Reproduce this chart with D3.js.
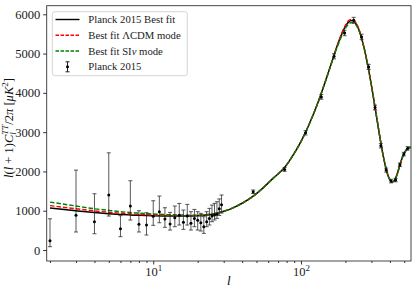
<!DOCTYPE html>
<html>

<head>
    <meta charset="utf-8">
    <style>
        body {
            margin: 0;
            background: white;
        }

        svg {
            font-family: 'Liberation Serif', 'DejaVu Serif', serif;
        }

        .axis .domain {
            display: none;
        }

        .axis .tick line {
            stroke: #333;
        }

        .axis .tick text {
            font-size: 12.5px;
            fill: #222;
            font-family: 'Liberation Serif', serif;
        }
    </style>
</head>

<body>
    <svg width="417" height="293"></svg>
</body>

<script src="https://d3js.org/d3.v7.min.js"></script>

<script>
    // ---- data ----

    // low-l Planck 2015 points (l = 2..29), values and asymmetric error bars
    let lowEll = [2, 3, 4, 5, 6, 7, 8, 9, 10, 11, 12, 13, 14, 15, 16, 17, 18, 19, 20, 21, 22, 23, 24, 25, 26, 27, 28, 29];
    let lowVal = [236, 882, 720, 1398, 543, 1119, 653, 636, 856, 975, 788, 661, 822, 882, 704, 865, 678, 805, 755, 694, 593, 720, 805, 865, 890, 907, 1050, 1150];
    let lowErrLo = [84, 458, 414, 864, 339, 763, 458, 381, 628, 694, 577, 508, 593, 636, 526, 636, 508, 593, 508, 483, 424, 593, 636, 720, 763, 805, 880, 940];
    let lowErrHi = [795, 2034, 1432, 2474, 873, 1763, 1000, 949, 1254, 1373, 1076, 958, 1119, 1186, 1017, 1161, 975, 1034, 975, 933, 848, 975, 1060, 1144, 1187, 1229, 1300, 1400];

    // binned high-l Planck 2015 points
    let binEll = [47.5, 77.5, 107.5, 137.5, 167.5, 197.5, 227.5, 257.5, 287.5, 317.5, 347.5, 377.5, 407.5, 437.5, 467.5, 497.5, 527.5];
    let binVal = [1483, 2052, 2983, 3898, 4932, 5525, 5848, 5424, 4661, 3628, 2653, 2034, 1754, 1780, 2169, 2441, 2586];
    let binErr = [45, 50, 55, 60, 65, 70, 75, 70, 65, 60, 55, 50, 45, 45, 45, 45, 45];

    // model curves sampled on one l grid
    let curveEll = [2, 3, 4, 5, 6, 7, 8, 10, 12, 15, 18, 20, 25, 30, 35, 40, 47.5, 55, 65, 77.5, 90, 100, 110, 120, 130, 140, 150, 160, 170, 180, 190, 200, 210, 220, 230, 240, 250, 260, 270, 280, 290, 300, 310, 320, 330, 340, 350, 360, 370, 380, 390, 400, 410, 420, 430, 440, 450, 460, 470, 480, 490, 500, 515, 530, 545, 556];
    let bestFit = [1070, 1000, 955, 925, 905, 892, 883, 872, 866, 864, 868, 874, 910, 985, 1080, 1190, 1370, 1570, 1830, 2100, 2460, 2760, 3080, 3410, 3740, 4080, 4410, 4730, 5030, 5300, 5520, 5690, 5800, 5840, 5810, 5710, 5550, 5330, 5080, 4800, 4500, 4190, 3870, 3550, 3240, 2940, 2660, 2410, 2200, 2020, 1880, 1790, 1740, 1740, 1780, 1850, 1950, 2070, 2190, 2300, 2390, 2460, 2540, 2590, 2610, 2612];
    let lcdmFit = [1130, 1050, 995, 960, 935, 918, 905, 890, 880, 874, 874, 878, 912, 986, 1080, 1190, 1370, 1570, 1830, 2100, 2460, 2760, 3080, 3410, 3740, 4080, 4410, 4730, 5030, 5310, 5540, 5720, 5840, 5870, 5840, 5730, 5560, 5330, 5080, 4800, 4500, 4190, 3870, 3550, 3240, 2940, 2660, 2410, 2200, 2020, 1880, 1790, 1740, 1740, 1780, 1850, 1950, 2070, 2190, 2300, 2390, 2460, 2540, 2590, 2610, 2612];
    let sinuFit = [1220, 1120, 1050, 1010, 975, 955, 940, 918, 903, 892, 888, 888, 918, 988, 1082, 1190, 1370, 1570, 1830, 2100, 2460, 2760, 3080, 3410, 3740, 4080, 4410, 4730, 5020, 5260, 5470, 5640, 5750, 5790, 5770, 5680, 5530, 5320, 5080, 4800, 4500, 4190, 3870, 3550, 3240, 2940, 2660, 2410, 2200, 2020, 1880, 1790, 1740, 1740, 1780, 1850, 1950, 2070, 2190, 2300, 2390, 2460, 2540, 2590, 2610, 2612];

    let yTicks = [0, 1000, 2000, 3000, 4000, 5000, 6000];
    let xTicks = [10, 100];
    let xMinor = [2, 3, 4, 5, 6, 7, 8, 9, 20, 30, 40, 50, 60, 70, 80, 90, 200, 300, 400, 500];

    let legendLabels = ["Planck 2015 Best fit", "Best fit \u039bCDM mode", "Best fit SI", "Planck 2015"];

    // ---- layout ----
    let width = 417;
    let height = 293;
    let margin = { top: 5.7, right: 6, bottom: 32, left: 46.7 };

    let svg = d3.select("svg");

    let x = d3.scaleLog()
        .domain([1.9, 556])
        .range([margin.left, width - margin.right]);

    let y = d3.scaleLinear()
        .domain([-280, 6219])
        .range([height - margin.bottom, margin.top]);

    let plotBottom = height - margin.bottom;

    // clip to the frame
    svg.append("clipPath").attr("id", "clip")
        .append("rect")
        .attr("x", margin.left).attr("y", margin.top)
        .attr("width", width - margin.right - margin.left)
        .attr("height", plotBottom - margin.top);

    // ---- axes ----
    let yAxis = d3.axisLeft(y)
        .tickValues(yTicks)
        .tickSize(3.5)
        .tickPadding(3)
        .tickFormat(d3.format("d"));

    svg.append("g")
        .attr("class", "y axis")
        .attr("transform", `translate(${margin.left},0)`)
        .call(yAxis);

    let xAxis = d3.axisBottom(x)
        .tickValues(xTicks)
        .tickSize(3.5)
        .tickPadding(3);

    let xg = svg.append("g")
        .attr("class", "x axis")
        .attr("transform", `translate(0,${plotBottom})`)
        .call(xAxis);

    // 10^n labels
    xg.selectAll(".tick text").each(function (d) {
        let t = d3.select(this).text("");
        t.append("tspan").text("10");
        t.append("tspan")
            .attr("dy", -5)
            .attr("font-size", "9px")
            .text(Math.round(Math.log10(d)));
    });

    svg.append("g")
        .attr("class", "x axis minor")
        .attr("transform", `translate(0,${plotBottom})`)
        .call(d3.axisBottom(x).tickValues(xMinor).tickSize(2).tickFormat(""));

    // ---- model curves ----
    let plot = svg.append("g").attr("clip-path", "url(#clip)");

    let line = d3.line()
        .x((d, i) => x(curveEll[i]))
        .y(d => y(d))
        .curve(d3.curveMonotoneX);

    plot.append("path")
        .datum(bestFit)
        .attr("d", line)
        .attr("fill", "none")
        .attr("stroke", "black")
        .attr("stroke-width", 1.5);

    plot.append("path")
        .datum(lcdmFit)
        .attr("d", line)
        .attr("fill", "none")
        .attr("stroke", "#ff0000")
        .attr("stroke-width", 1.4)
        .attr("stroke-dasharray", "4.5,2");

    plot.append("path")
        .datum(sinuFit)
        .attr("d", line)
        .attr("fill", "none")
        .attr("stroke", "#008000")
        .attr("stroke-width", 1.4)
        .attr("stroke-dasharray", "4.5,2");

    // ---- data with error bars ----
    let points = lowEll.map((l, i) => ({ l: l, v: lowVal[i], lo: lowErrLo[i], hi: lowErrHi[i] }))
        .concat(binEll.map((l, i) => ({ l: l, v: binVal[i], lo: binVal[i] - binErr[i], hi: binVal[i] + binErr[i] })));

    let eb = plot.append("g")
        .selectAll("g")
        .data(points)
        .join("g")
        .attr("stroke", "#222")
        .attr("stroke-opacity", 0.75)
        .attr("stroke-width", 1);

    eb.append("line")
        .attr("x1", d => x(d.l)).attr("x2", d => x(d.l))
        .attr("y1", d => y(d.lo)).attr("y2", d => y(d.hi));

    eb.append("line")
        .attr("x1", d => x(d.l) - 2).attr("x2", d => x(d.l) + 2)
        .attr("y1", d => y(d.lo)).attr("y2", d => y(d.lo));

    eb.append("line")
        .attr("x1", d => x(d.l) - 2).attr("x2", d => x(d.l) + 2)
        .attr("y1", d => y(d.hi)).attr("y2", d => y(d.hi));

    plot.append("g")
        .selectAll("circle")
        .data(points)
        .join("circle")
        .attr("cx", d => x(d.l))
        .attr("cy", d => y(d.v))
        .attr("r", 1.5)
        .attr("fill", "black");

    // frame
    svg.append("rect")
        .attr("x", margin.left).attr("y", margin.top)
        .attr("width", width - margin.right - margin.left)
        .attr("height", plotBottom - margin.top)
        .attr("fill", "none")
        .attr("stroke", "#333")
        .attr("stroke-width", 0.9);

    // ---- axis labels ----
    svg.append("text")
        .attr("x", (margin.left + width - margin.right) / 2)
        .attr("y", 285)
        .attr("text-anchor", "middle")
        .attr("font-size", "13px")
        .attr("font-style", "italic")
        .text("l");

    let ylab = svg.append("text")
        .attr("transform", "translate(13,128) rotate(-90)")
        .attr("text-anchor", "middle")
        .attr("font-size", "12.5px")
        .attr("fill", "#111");

    ylab.append("tspan").attr("font-style", "italic").text("l");
    ylab.append("tspan").text("(");
    ylab.append("tspan").attr("font-style", "italic").text("l");
    ylab.append("tspan").text(" + 1)");
    ylab.append("tspan").attr("font-style", "italic").text("C");
    ylab.append("tspan").attr("font-style", "italic").attr("font-size", "9px").attr("dy", 3).text("l");
    ylab.append("tspan").attr("font-style", "italic").attr("font-size", "9px").attr("dx", -2.5).attr("dy", -8).text("TT");
    ylab.append("tspan").attr("dy", 5).text("/2");
    ylab.append("tspan").attr("font-style", "italic").text("\u03c0");
    ylab.append("tspan").text(" [");
    ylab.append("tspan").attr("font-style", "italic").text("\u03bcK");
    ylab.append("tspan").attr("font-size", "9px").attr("dy", -5).text("2");
    ylab.append("tspan").attr("dy", 5).text("]");

    // ---- legend ----
    let leg = svg.append("g");

    leg.append("rect")
        .attr("x", 52.3).attr("y", 11.7)
        .attr("width", 135).attr("height", 64)
        .attr("rx", 2.5)
        .attr("fill", "white").attr("fill-opacity", 0.85)
        .attr("stroke", "#d0d0d0").attr("stroke-width", 0.9);

    let rowY = [19.5, 35.2, 51, 66.8];
    let legStyles = [
        { stroke: "black", dash: null },
        { stroke: "#ff0000", dash: "3.5,1.5" },
        { stroke: "#008000", dash: "3.5,1.5" }
    ];

    legStyles.forEach((s, i) => {
        leg.append("line")
            .attr("x1", 55.5).attr("x2", 79.5)
            .attr("y1", rowY[i]).attr("y2", rowY[i])
            .attr("stroke", s.stroke)
            .attr("stroke-width", 1.4)
            .attr("stroke-dasharray", s.dash);
    });

    // errorbar handle
    let eh = leg.append("g").attr("stroke", "#222").attr("stroke-width", 1);
    eh.append("line").attr("x1", 67.5).attr("x2", 67.5).attr("y1", rowY[3] - 5).attr("y2", rowY[3] + 5);
    eh.append("line").attr("x1", 65.5).attr("x2", 69.5).attr("y1", rowY[3] - 5).attr("y2", rowY[3] - 5);
    eh.append("line").attr("x1", 65.5).attr("x2", 69.5).attr("y1", rowY[3] + 5).attr("y2", rowY[3] + 5);
    leg.append("circle").attr("cx", 67.5).attr("cy", rowY[3]).attr("r", 1.5).attr("fill", "black");

    legendLabels.forEach((lab, i) => {
        let t = leg.append("text")
            .attr("x", 88.3)
            .attr("y", rowY[i] + 3.6)
            .attr("font-size", "10.7px")
            .attr("fill", "#222")
            .text(lab);
        if (i == 2) {
            t.append("tspan").attr("font-style", "italic").text("\u03bd");
            t.append("tspan").text(" mode");
        }
    });
</script>

</html>
